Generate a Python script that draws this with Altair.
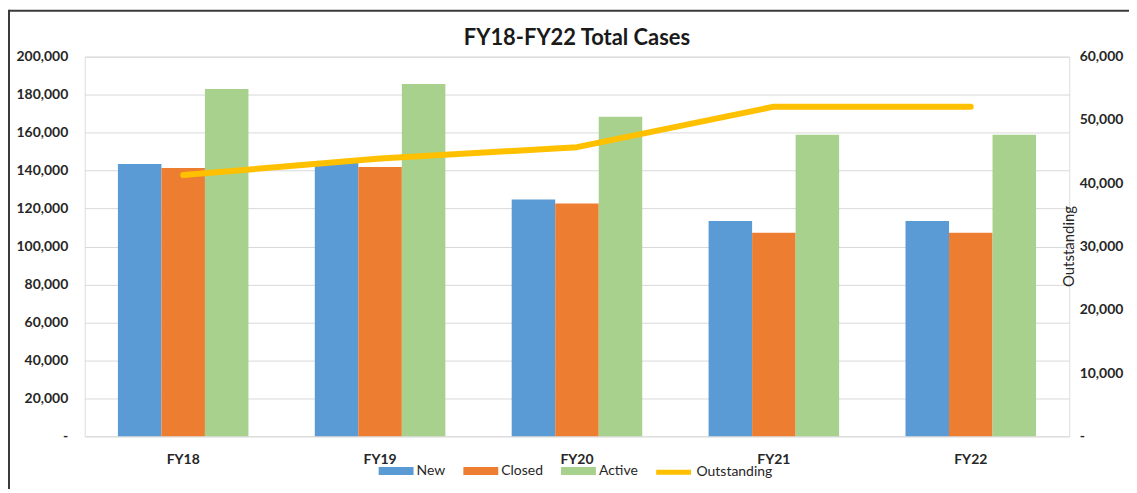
import altair as alt
import pandas as pd

years = ["FY18", "FY19", "FY20", "FY21", "FY22"]
new_cases = [143500, 144000, 124700, 113500, 113500]
closed_cases = [141400, 141900, 122600, 107200, 107200]
active_cases = [183000, 185600, 168400, 158900, 158900]
outstanding = [41300, 43900, 45700, 52100, 52100]

series_names = ["New", "Closed", "Active"]
bar_colors = ["#5B9BD5", "#ED7D31", "#A9D18E"]
line_name = "Outstanding"
line_color = "#FFC000"

left_ticks = [0, 20000, 40000, 60000, 80000, 100000, 120000, 140000, 160000, 180000, 200000]
right_ticks = [0, 10000, 20000, 30000, 40000, 50000, 60000]

rows = []
for name, vals in zip(series_names, [new_cases, closed_cases, active_cases]):
    for fy, v in zip(years, vals):
        rows.append({"FY": fy, "Series": name, "Value": v})
bars_df = pd.DataFrame(rows)
line_df = pd.DataFrame({"FY": years, "Outstanding": outstanding, "Series": [line_name] * len(years)})

FONT = "Lato"
TXT = "#262626"

x_enc = alt.X(
    "FY:N",
    sort=years,
    scale=alt.Scale(paddingInner=0.337, paddingOuter=0.1685),
    axis=alt.Axis(title=None, labelAngle=0, domain=False, ticks=False, tickSize=0,
                  labelFontWeight="bold", labelFontSize=14, labelFont=FONT,
                  labelColor=TXT, labelPadding=16),
)

bars = alt.Chart(bars_df).mark_bar().encode(
    x=x_enc,
    xOffset=alt.XOffset("Series:N", sort=series_names,
                        scale=alt.Scale(domain=series_names, paddingInner=0, paddingOuter=0)),
    y=alt.Y("Value:Q",
            scale=alt.Scale(domain=[0, 200000], nice=False),
            axis=alt.Axis(title=None, values=left_ticks, domain=False, ticks=False, tickSize=0,
                          grid=True, gridColor="#d9d9d9", gridWidth=1,
                          labelFontWeight="bold", labelFontSize=14, labelFont=FONT,
                          labelColor=TXT, labelPadding=17,
                          labelExpr="datum.value == 0 ? '-\u00a0\u00a0\u00a0' : format(datum.value, ',')")),
    color=alt.Color("Series:N",
                    scale=alt.Scale(domain=series_names, range=bar_colors),
                    legend=alt.Legend(title=None, orient="none", legendX=295, legendY=398,
                                      direction="horizontal",
                                      symbolType="M-1,-0.23L1,-0.23L1,0.23L-1,0.23Z",
                                      symbolSize=1225, symbolStrokeWidth=0, symbolOpacity=1,
                                      labelOffset=3, columnPadding=18, padding=0,
                                      labelFontSize=14, labelFont=FONT, labelColor=TXT)),
)

line = alt.Chart(line_df).mark_line(strokeWidth=6, strokeCap="round", strokeJoin="round").encode(
    x=x_enc,
    y=alt.Y("Outstanding:Q",
            scale=alt.Scale(domain=[0, 60000], nice=False),
            axis=alt.Axis(title="Outstanding", orient="right", values=right_ticks,
                          domain=False, ticks=False, tickSize=0, grid=False,
                          labelFontWeight="bold", labelFontSize=14, labelFont=FONT,
                          labelColor=TXT, labelPadding=10,
                          labelExpr="datum.value == 0 ? '\u00a0\u00a0\u00a0\u00a0-' : format(datum.value, ',')",
                          titleFont=FONT, titleFontSize=15, titleFontWeight="normal",
                          titleColor=TXT, titleAngle=270, titleX=-1, titleY=190,
                          titleAlign="center", titleBaseline="middle")),
    stroke=alt.Stroke("Series:N",
                      scale=alt.Scale(domain=[line_name], range=[line_color]),
                      legend=alt.Legend(title=None, orient="none", legendX=571, legendY=397,
                                        symbolType="stroke", symbolSize=1225, symbolStrokeWidth=5,
                                        labelOffset=3, padding=0,
                                        labelFontSize=14, labelFont=FONT, labelColor=TXT)),
)

frame = alt.Chart(alt.Data(values=[{}]))
top_border = frame.mark_rule(color="#3a3a3a", strokeWidth=2).encode(
    x=alt.value(-76), x2=alt.value(1060), y=alt.value(-46))
left_border = frame.mark_rule(color="#3a3a3a", strokeWidth=2).encode(
    x=alt.value(-76), y=alt.value(-47), y2=alt.value(440))

chart = alt.layer(bars, line, top_border, left_border).resolve_scale(
    y="independent"
).properties(
    width=988,
    height=381,
    padding={"left": 77, "top": 48, "right": 60, "bottom": 52},
    autosize=alt.AutoSizeParams(type="none"),
    title=alt.TitleParams("FY18-FY22 Total Cases", fontSize=22, fontWeight="bold",
                          font=FONT, color="#1a1a1a", anchor="middle",
                          baseline="alphabetic", offset=-58),
).configure_view(stroke=None).configure(background="white")

chart.save("out.html", embed_options={"renderer": "svg", "actions": False})
